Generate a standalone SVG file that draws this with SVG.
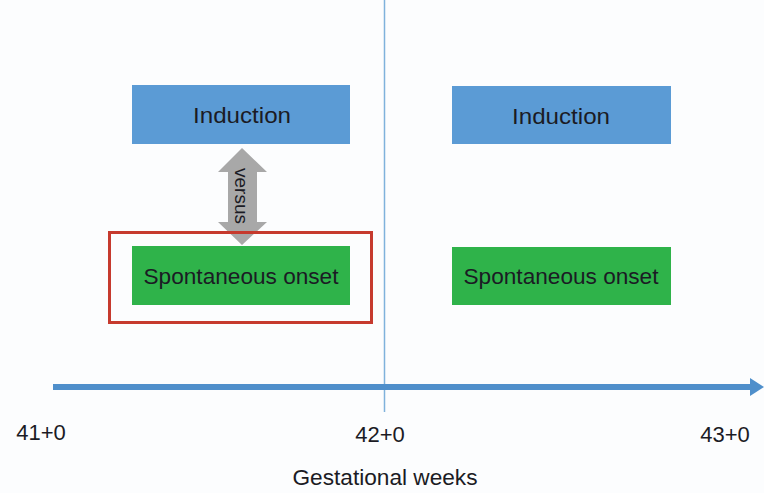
<svg xmlns="http://www.w3.org/2000/svg" width="764" height="493" viewBox="0 0 764 493">
<defs>
<style>
.t{font-family:"Liberation Sans",Arial,sans-serif;fill:#1b1b24}
.ind{fill:#5b9bd5}
.sp{fill:#2fb34a}
.lbl{font-size:22px;text-anchor:middle}
.ax{font-size:22px;text-anchor:middle}
</style>
</defs>
<rect width="764" height="493" fill="#fcfdfe"/>
<g id="connectors">
<line x1="384.5" y1="0" x2="384.5" y2="412" stroke="#7fb2dc" stroke-width="1.5"/>
<line x1="53" y1="387" x2="752" y2="387" stroke="#4f8fcb" stroke-width="6"/>
<polygon points="750,378 764,387 750,396" fill="#4f8fcb"/>
</g>
<g id="versus-arrow">
<polygon points="242,148 267,172 257,172 257,222 267,222 242,245 218,222 228,222 228,172 218,172" fill="#a8a8a8"/>
<text class="t" x="0" y="0" font-size="19" text-anchor="middle" textLength="56" lengthAdjust="spacingAndGlyphs" transform="translate(235,196) rotate(90)">versus</text>
</g>
<g id="highlight">
<rect x="109.5" y="232.5" width="262" height="90" fill="none" stroke="#c63a2e" stroke-width="3"/>
</g>
<g id="induction-left">
<rect class="ind" x="132" y="85" width="218" height="59"/>
<text class="t lbl" x="242" y="123" textLength="98" lengthAdjust="spacingAndGlyphs">Induction</text>
</g>
<g id="spont-left">
<rect class="sp" x="132" y="246" width="218" height="59"/>
<text class="t lbl" x="241" y="284" textLength="195" lengthAdjust="spacingAndGlyphs">Spontaneous onset</text>
</g>
<g id="induction-right">
<rect class="ind" x="452" y="86" width="219" height="58"/>
<text class="t lbl" x="561" y="124" textLength="98" lengthAdjust="spacingAndGlyphs">Induction</text>
</g>
<g id="spont-right">
<rect class="sp" x="452" y="247" width="219" height="58"/>
<text class="t lbl" x="561" y="284" textLength="195" lengthAdjust="spacingAndGlyphs">Spontaneous onset</text>
</g>
<g id="axis-labels">
<text class="t ax" x="41" y="440">41+0</text>
<text class="t ax" x="380" y="442">42+0</text>
<text class="t ax" x="725" y="442">43+0</text>
<text class="t ax" x="385" y="485" textLength="185" lengthAdjust="spacingAndGlyphs">Gestational weeks</text>
</g>
</svg>
